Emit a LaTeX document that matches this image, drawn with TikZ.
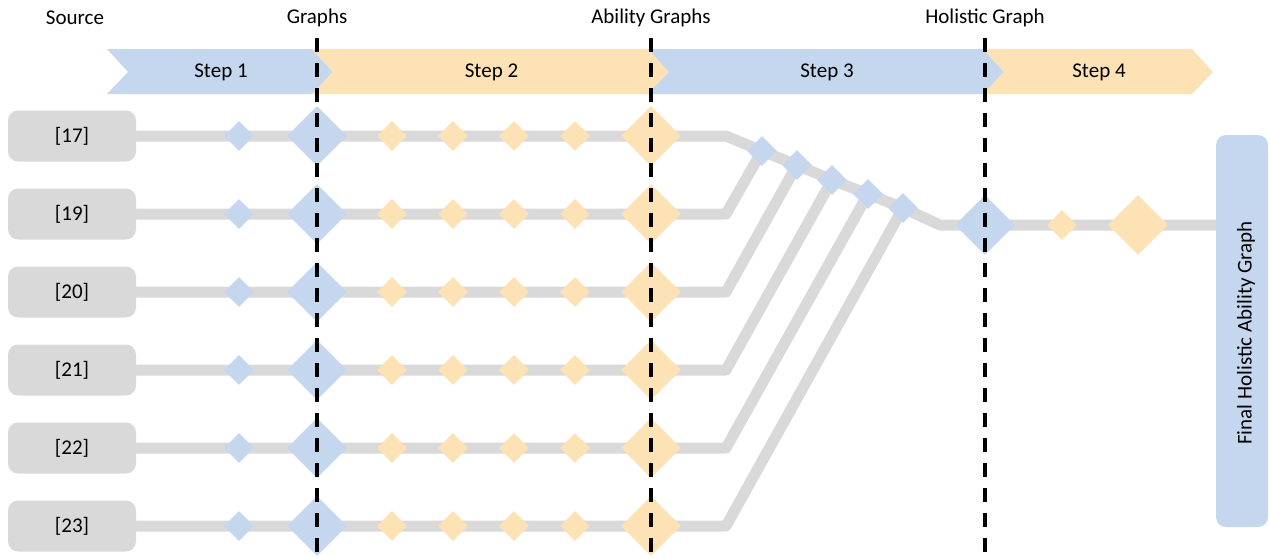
\documentclass[tikz,border=0pt]{standalone}
\usepackage{fontspec}
\setmainfont{Carlito}
\usetikzlibrary{shapes.geometric,backgrounds}

\definecolor{stepblue}{HTML}{C5D7EF}
\definecolor{steporange}{HTML}{FCE2B4}
\definecolor{trackgray}{HTML}{D9D9D9}

\tikzset{
  lbl/.style={font=\fontsize{21}{25}\selectfont},
  srcbox/.style={fill=trackgray,rounded corners=10pt,minimum width=128pt,minimum height=51pt,inner sep=0pt,lbl},
  gem/.style={diamond,fill=#1,inner sep=0pt,minimum size=30pt},
  biggem/.style={diamond,fill=#1,inner sep=0pt,minimum size=60pt},
  track/.style={trackgray,line width=11pt,line join=round},
  stage/.style={black,line width=3.5pt,dash pattern=on 14pt off 11pt},
}

\begin{document}
\begin{tikzpicture}[x=1pt,y=-1pt]
\useasboundingbox (0,0) rectangle (1270,558);
% column headings
\node[lbl] (hsrc) at (75,18) {Source};
\node[lbl] (hgraph) at (317,18) {Graphs};
\node[lbl] (hability) at (651,18) {Ability Graphs};
\node[lbl] (hholistic) at (985,18) {Holistic Graph};
% step banner
\foreach \xa/\xb/\col/\txt [count=\i] in {107/312/stepblue/Step 1,312/648/steporange/Step 2,648/983/stepblue/Step 3,983/1192/steporange/Step 4}{
  \fill[\col] (\xa,49) -- (\xb,49) -- (\xb+21,72) -- (\xb,94) -- (\xa,94) -- (\xa+21,72) -- cycle;
  \node[lbl] (step\i) at ({(\xa+\xb)/2+11.5},72) {\txt};
}
% source rows
\foreach \lab [count=\r] in {17,19,20,21,22,23}{
  \pgfmathsetmacro{\yy}{136+78*(\r-1)}
  \node[srcbox] (src\r) at (72,\yy) {[\lab]};
  \node[gem=stepblue] (r\r-b) at (239,\yy) {};
  \node[biggem=stepblue] (r\r-g) at (317,\yy) {};
  \foreach \x [count=\k] in {392,453,514,575}
    \node[gem=steporange] (r\r-o\k) at (\x,\yy) {};
  \node[biggem=steporange] (r\r-a) at (651,\yy) {};
  \coordinate (r\r-bend) at (726,\yy);
}
% merging
\foreach \x/\y [count=\m] in {762/151,797/165,832/180,868/194,903/208}
  \node[gem=stepblue] (m\m) at (\x,\y) {};
\coordinate (join) at (940,225);
\node[biggem=stepblue] (hol) at (985,225) {};
\node[gem=steporange] (fin1) at (1062,225) {};
\node[biggem=steporange] (fin2) at (1138,225) {};
\node[fill=stepblue,rounded corners=10pt,rotate=90,minimum width=392pt,minimum height=52pt,inner sep=0pt] (final) at (1242,331) {};
\node[lbl,rotate=90] (finaltxt) at (1246,333) {Final Holistic Ability Graph};
% tracks
\begin{scope}[on background layer]
\draw[track] (src1.east) -- (r1-bend) -- (m1.center) -- (m2.center) -- (m3.center) -- (m4.center) -- (m5.center) -- (join) -- (join -| final.center);
\foreach \r/\m in {2/1,3/2,4/3,5/4,6/5}
  \draw[track] (src\r.east) -- (r\r-bend) -- (m\m.center);
\end{scope}
% stage dividers
\foreach \x in {317,651,985}
  \draw[stage] (\x,38) -- (\x,558);
\end{tikzpicture}
\end{document}
